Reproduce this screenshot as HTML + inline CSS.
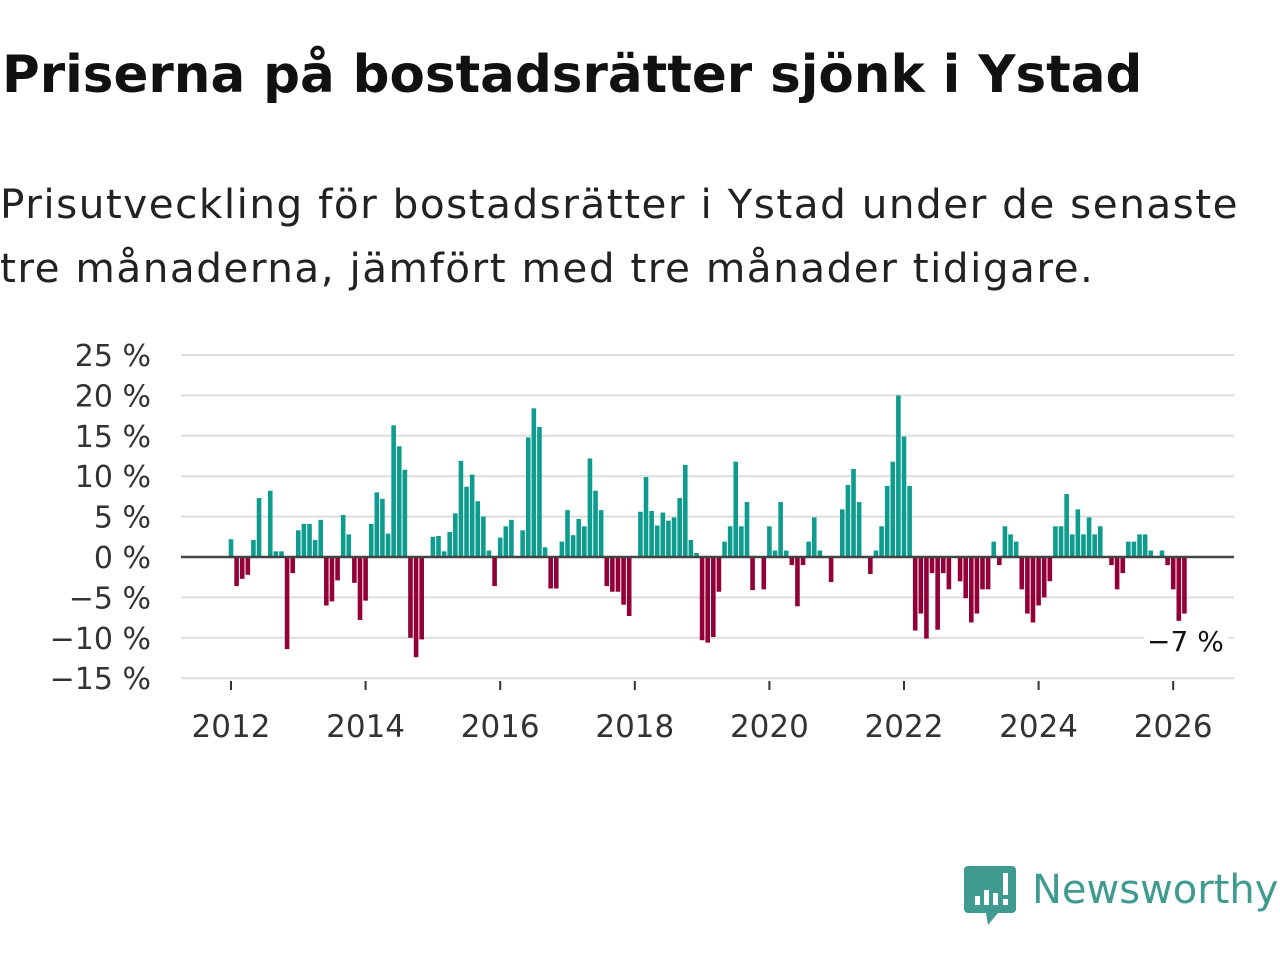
<!DOCTYPE html>
<html><head><meta charset="utf-8">
<style>
html,body{margin:0;padding:0;background:#fff;width:1280px;height:960px;overflow:hidden;font-family:"DejaVu Sans","Liberation Sans",sans-serif;}
#title{position:absolute;left:2px;top:45px;font-size:51.5px;font-weight:bold;color:#111;margin:0;letter-spacing:0px;white-space:nowrap;}
#subtitle{position:absolute;left:0px;top:172px;font-size:40.5px;line-height:64px;color:#222;width:1280px;letter-spacing:1.5px;white-space:nowrap;}
svg{position:absolute;left:0;top:0;}
</style></head><body>
<h1 id="title">Priserna på bostadsrätter sjönk i Ystad</h1>
<div id="subtitle">Prisutveckling för bostadsrätter i Ystad under de senaste<br>tre månaderna, jämfört med tre månader tidigare.</div>
<svg id="chart" width="1280" height="960"></svg>
<script>
const values = [2.2,-3.6,-2.7,-2.2,2.1,7.3,0,8.2,0.7,0.7,-11.4,-2.0,
3.3,4.1,4.1,2.1,4.6,-6.0,-5.5,-2.9,5.2,2.8,-3.2,-7.8,
-5.4,4.1,8.0,7.2,2.9,16.3,13.7,10.8,-10.0,-12.4,-10.2,0,
2.5,2.6,0.7,3.1,5.4,11.9,8.7,10.2,6.9,5.0,0.8,-3.6,
2.4,3.8,4.6,0,3.3,14.8,18.4,16.1,1.2,-3.9,-3.9,1.9,
5.8,2.7,4.7,3.8,12.2,8.2,5.8,-3.6,-4.3,-4.3,-5.9,-7.3,
0,5.6,9.9,5.7,3.9,5.5,4.5,4.9,7.3,11.4,2.1,0.5,
-10.3,-10.6,-9.9,-4.3,1.9,3.8,11.8,3.8,6.8,-4.1,0,-4.0,
3.8,0.8,6.8,0.8,-1,-6.1,-1,1.9,4.9,0.8,0,-3.1,
0,5.9,8.9,10.9,6.8,0,-2.1,0.8,3.8,8.8,11.8,20,
14.9,8.8,-9.1,-7,-10.1,-2,-9,-2,-4,0,-3,-5.1,
-8.1,-7,-4,-4,1.9,-1,3.8,2.8,1.9,-4,-7,-8.1,
-6,-5,-3,3.8,3.8,7.8,2.8,5.9,2.8,4.9,2.8,3.8,
0,-1,-4,-2,1.9,1.9,2.8,2.8,0.8,0,0.8,-1,
-4,-7.9,-7];
const startYear = 2012;
const yTicks = [25,20,15,10,5,0,-5,-10,-15];
const xTickYears = [2012,2014,2016,2018,2020,2022,2024,2026];
const lastLabel = "−7 %";

const svg = document.getElementById('chart');
const NS = 'http://www.w3.org/2000/svg';
const FONT = 'DejaVu Sans, Liberation Sans, sans-serif';
const x0 = 231, monthPx = 673/120;
const xScale = m => x0 + m*monthPx;
const yScale = v => 557 - v*(202/25);
function mk(tag, attrs){const e=document.createElementNS(NS,tag);for(const k in attrs)e.setAttribute(k,attrs[k]);svg.appendChild(e);return e;}

yTicks.forEach(t=>{
  const g = mk('line',{x1:181,x2:1234,y1:yScale(t),y2:yScale(t),stroke:'#dddddd','stroke-width':2});
  
  
  const lb = mk('text',{x:151,y:yScale(t)+11,'text-anchor':'end','font-size':30,fill:'#333','font-family':FONT});
  lb.textContent = (t<0?'−'+(-t):t)+' %';
  
  
});
xTickYears.forEach(yr=>{
  const x = xScale((yr-startYear)*12);
  const tk = mk('line',{x1:x,x2:x,y1:681,y2:690,stroke:'#333','stroke-width':2});
  
  
  const lb = mk('text',{x:x,y:737,'text-anchor':'middle','font-size':31,fill:'#333','font-family':FONT});
  lb.textContent = yr;
  
  
});
values.forEach((v,i)=>{
  if(v===0) return;
  const x = xScale(i);
  const y = v>0?yScale(v):yScale(0);
  const h = Math.abs(yScale(v)-yScale(0));
  const r = mk('rect',{x:x-2.3,y:y,width:4.6,height:h,fill:v>0?'#0e9c8e':'#930038'});
  
  
});
const zl = mk('line',{x1:181,x2:1234,y1:yScale(0),y2:yScale(0),stroke:'#444','stroke-width':2.5});


const lx = xScale(values.length-1);
const bg = mk('rect',{x:lx-40,y:622,width:84,height:34,fill:'#fff'});


const ll = mk('text',{x:lx+1,y:651,'text-anchor':'middle','font-size':28,fill:'#111','font-family':FONT});
ll.textContent = lastLabel;


</script>
<svg width="1280" height="960" style="pointer-events:none">
  <path d="M968 866 h44 a4 4 0 0 1 4 4 v39 a4 4 0 0 1 -4 4 h-14 l-10 12 l-2 -12 h-18 a4 4 0 0 1 -4 -4 v-39 a4 4 0 0 1 4 -4z" fill="#3f9a90"/>
  <rect x="975" y="896" width="5" height="9" fill="#fff"/>
  <rect x="984" y="890" width="5" height="15" fill="#fff"/>
  <rect x="993" y="893" width="5" height="12" fill="#fff"/>
  <rect x="1003" y="873" width="5" height="22" fill="#fff"/>
  <rect x="1003" y="899" width="5" height="6" fill="#fff"/>
  <text x="1032" y="903" font-size="40" fill="#3f9a90" font-family="DejaVu Sans, Liberation Sans, sans-serif">Newsworthy</text>
</svg>
</body></html>
